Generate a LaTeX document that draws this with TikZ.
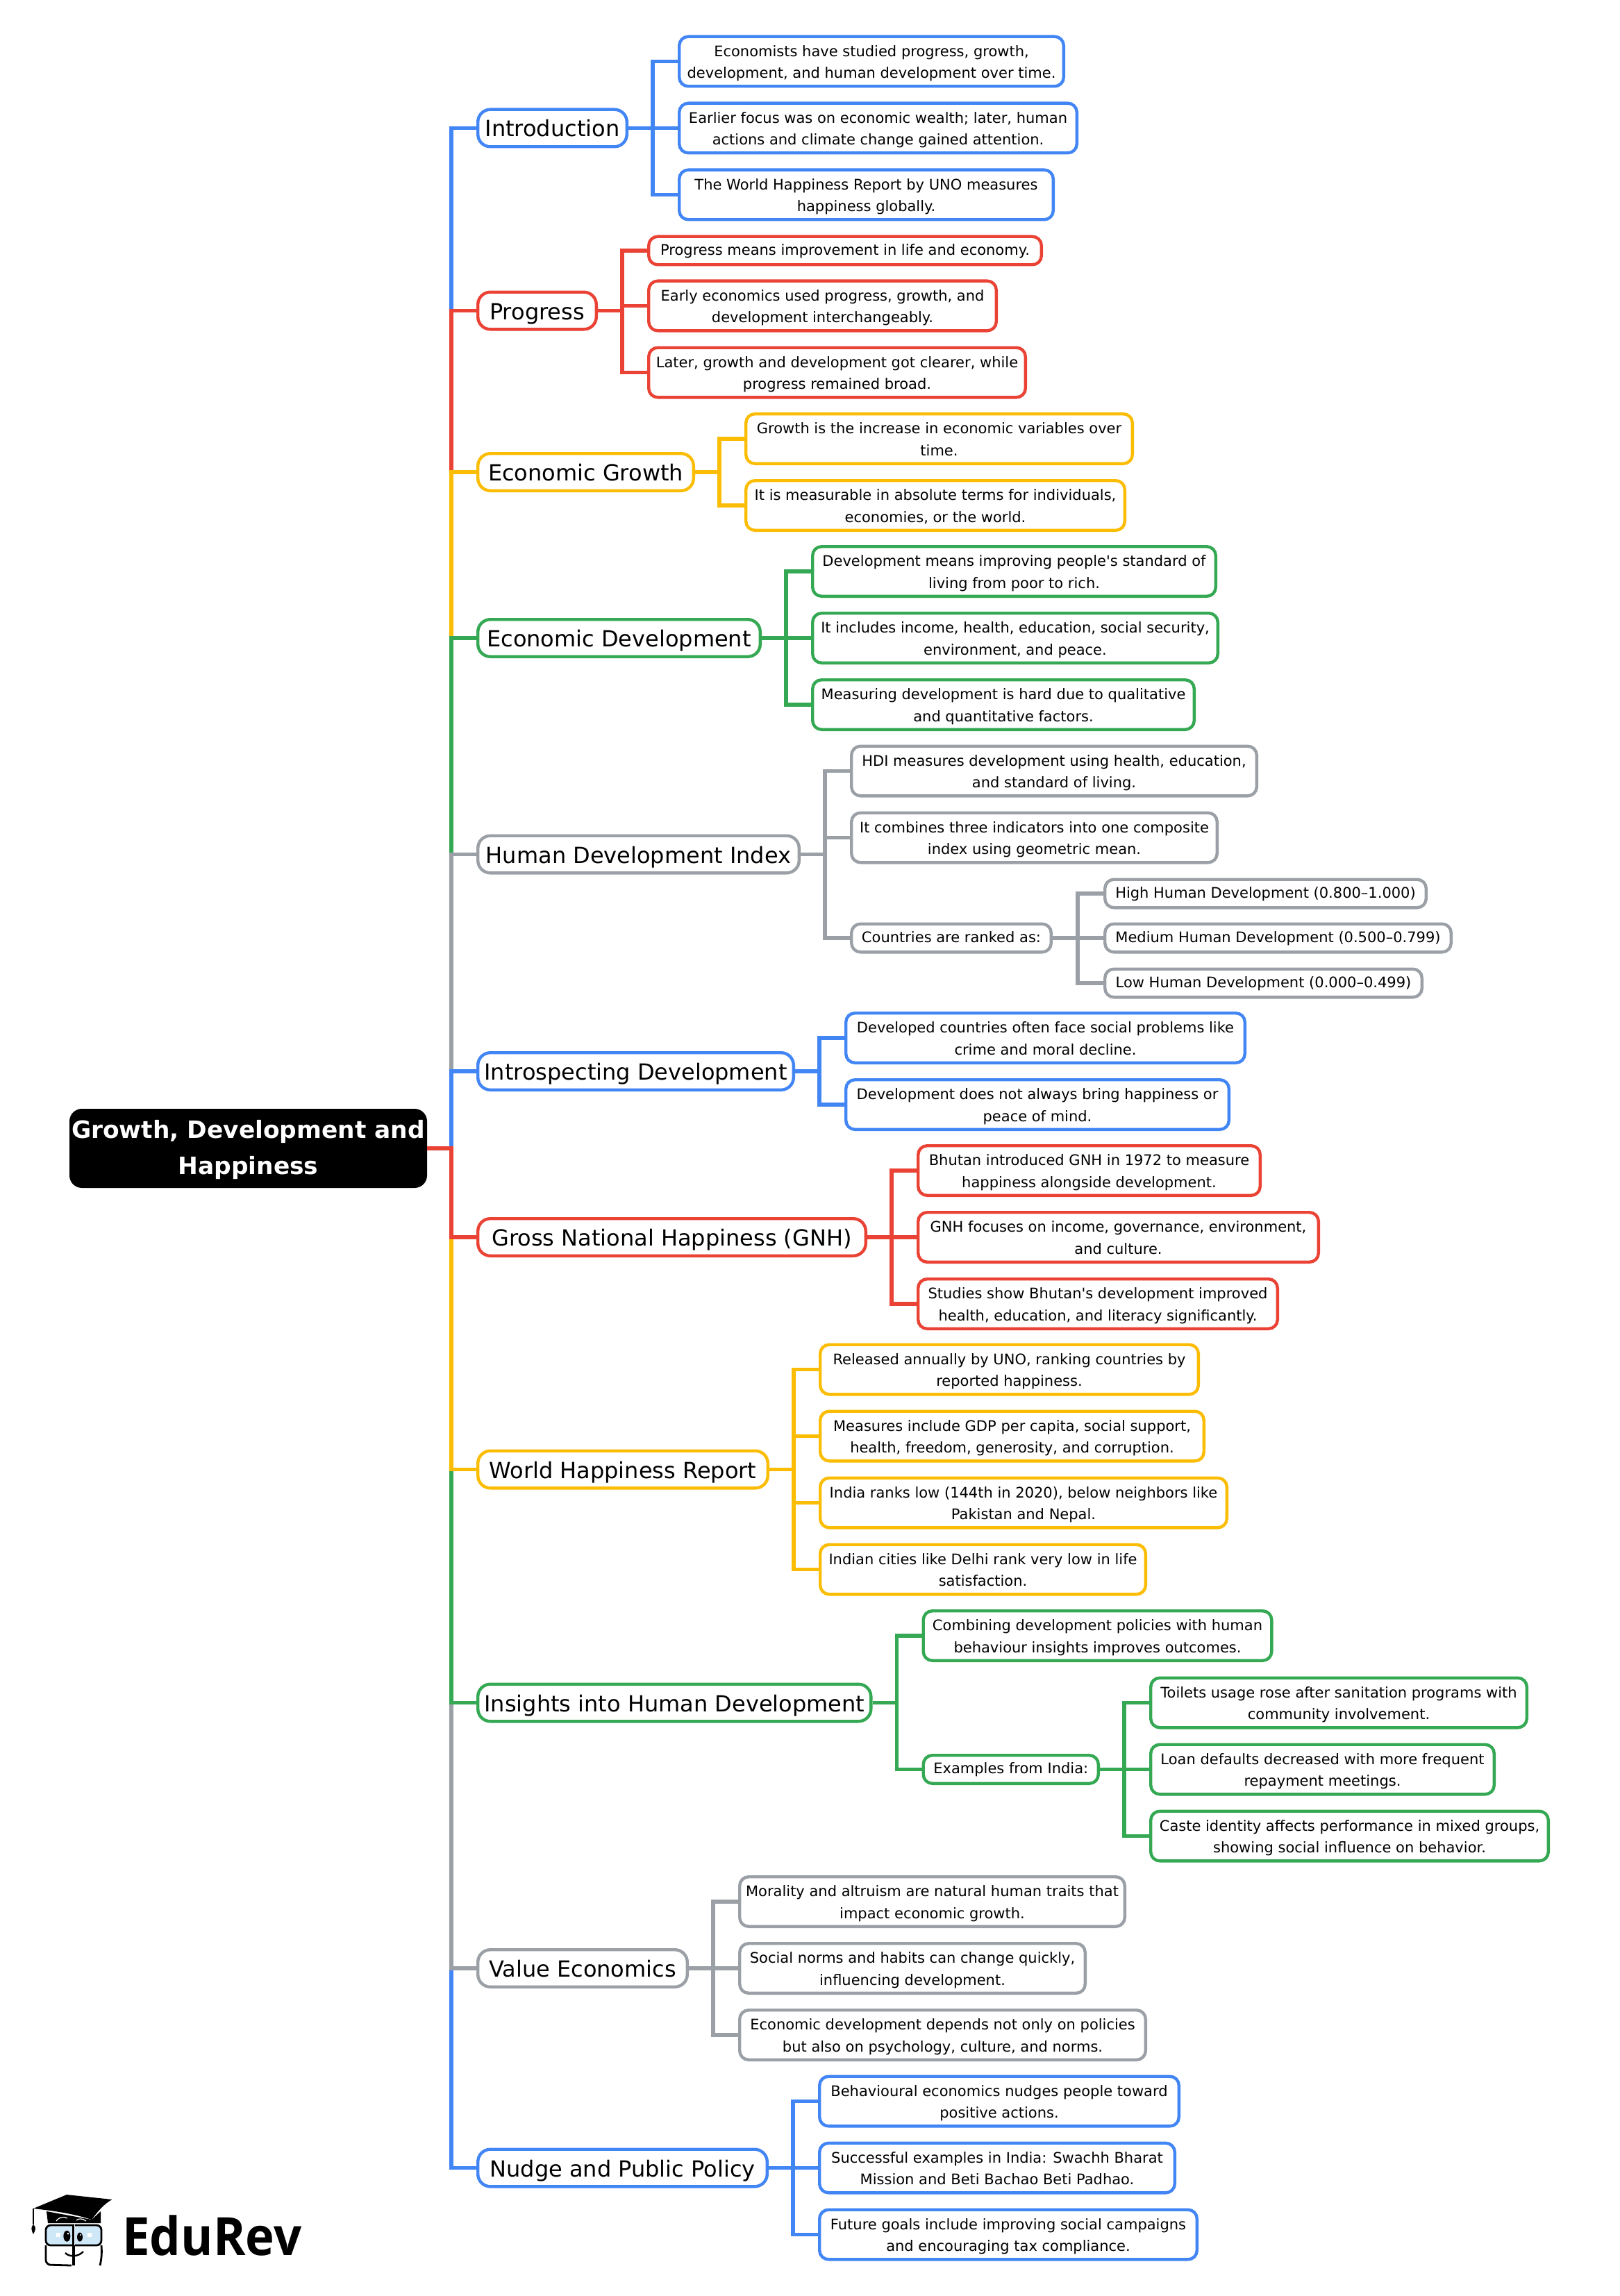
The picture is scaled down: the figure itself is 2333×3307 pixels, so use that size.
\documentclass[tikz,border=0pt]{standalone}
\usepackage{fontspec}
\setmainfont{DejaVu Sans}[Ligatures=TeXOff]
\newfontfamily\logofont{Open Sans}
\definecolor{mapblue}{HTML}{4285F4}
\definecolor{mapred}{HTML}{EA4335}
\definecolor{mapyellow}{HTML}{FBBC04}
\definecolor{mapgreen}{HTML}{34A853}
\definecolor{mapgray}{HTML}{9AA0A6}
\definecolor{logoglass}{HTML}{CFE8F7}
\tikzset{
  wd/.style={minimum width={(#1-4.4)*0.5pt}},
  wire/.style={draw=#1,line width=2.7pt},
  topic/.style={draw=#1,fill=white,line width=2.2pt,rounded corners=9pt,anchor=west,
    minimum height=26.8pt,inner xsep=0pt,inner ysep=0pt,align=center,
    text height=14pt,text depth=1.5pt,
    font=\fontsize{16}{20}\selectfont},
  leaf/.style={draw=#1,fill=white,line width=2.2pt,rounded corners=6.5pt,anchor=west,
    minimum height=35.8pt,inner xsep=0pt,inner ysep=0pt,align=center,
    text height=24pt,text depth=0pt,
    font=\fontsize{10.5}{15.7}\selectfont},
  oneline/.style={minimum height=20.3pt,text height=8pt,text depth=1.6pt},
}
\begin{document}
\begin{tikzpicture}[x=0.5pt,y=-0.5pt]

  \useasboundingbox (0,0) rectangle (2333,3307);

  \node[fill=black,text=white,rounded corners=9pt,minimum width=257.5pt,minimum height=57pt,
    inner sep=0pt,align=center,font=\fontsize{17.2}{26}\selectfont\bfseries,
    text height=38pt,text depth=0.3pt]
    (root) at (357.5,1654) {Growth, Development and\\Happiness};
  \coordinate (spine) at (650,1654);

  \node[topic=mapblue,wd=219] (intro) at (686,184.5) {Introduction};
  \node[topic=mapred,wd=175] (prog) at (686,447.5) {Progress};
  \node[topic=mapyellow,wd=315] (egrow) at (686,680) {Economic Growth};
  \node[topic=mapgreen,wd=411] (edev) at (686,919) {Economic Development};
  \node[topic=mapgray,wd=467] (hdi) at (686,1230.5) {Human Development Index};
  \node[topic=mapblue,wd=459] (insp) at (686,1543) {Introspecting Development};
  \node[topic=mapred,wd=563] (gnh) at (686,1782) {Gross National Happiness (GNH)};
  \node[topic=mapyellow,wd=422] (whr) at (686,2116.5) {World Happiness Report};
  \node[topic=mapgreen,wd=570.5] (ins) at (686,2452.5) {Insights into Human Development};
  \node[topic=mapgray,wd=306] (val) at (686,2835) {Value Economics};
  \node[topic=mapblue,wd=421] (nudge) at (686,3122.5) {Nudge and Public Policy};

  \node[leaf=mapblue,wd=558] (introa) at (976,88.5) {Economists have studied progress, growth,\\development, and human development over time.};
  \node[leaf=mapblue,wd=577] (introb) at (976,184.5) {Earlier focus was on economic wealth; later, human\\actions and climate change gained attention.};
  \node[leaf=mapblue,wd=543] (introc) at (976,280.5) {The World Happiness Report by UNO measures\\happiness globally.};

  \node[leaf=mapred,wd=570,oneline] (proga) at (932,361) {Progress means improvement in life and economy.};
  \node[leaf=mapred,wd=505] (progb) at (932,440.5) {Early economics used progress, growth, and\\development interchangeably.};
  \node[leaf=mapred,wd=547] (progc) at (932,536.5) {Later, growth and development got clearer, while\\progress remained broad.};

  \node[leaf=mapyellow,wd=561] (egrowa) at (1072,632) {Growth is the increase in economic variables over\\time.};
  \node[leaf=mapyellow,wd=550] (egrowb) at (1072,728) {It is measurable in absolute terms for individuals,\\economies, or the world.};

  \node[leaf=mapgreen,wd=585] (edeva) at (1168,823) {Development means improving people's standard of\\living from poor to rich.};
  \node[leaf=mapgreen,wd=588] (edevb) at (1168,919) {It includes income, health, education, social security,\\environment, and peace.};
  \node[leaf=mapgreen,wd=554] (edevc) at (1168,1015) {Measuring development is hard due to qualitative\\and quantitative factors.};

  \node[leaf=mapgray,wd=588] (hdia) at (1224,1110.5) {HDI measures development using health, education,\\and standard of living.};
  \node[leaf=mapgray,wd=531] (hdib) at (1224,1206.5) {It combines three indicators into one composite\\index using geometric mean.};
  \node[leaf=mapgray,wd=292,oneline] (hdic) at (1224,1351) {Countries are ranked as:};
  \node[leaf=mapgray,wd=467,oneline] (hdiha) at (1589,1287) {High Human Development (0.800–1.000)};
  \node[leaf=mapgray,wd=503,oneline] (hdihb) at (1589,1351) {Medium Human Development (0.500–0.799)};
  \node[leaf=mapgray,wd=461,oneline] (hdihc) at (1589,1416) {Low Human Development (0.000–0.499)};

  \node[leaf=mapblue,wd=579] (inspa) at (1216,1495) {Developed countries often face social problems like\\crime and moral decline.};
  \node[leaf=mapblue,wd=556] (inspb) at (1216,1591) {Development does not always bring happiness or\\peace of mind.};

  \node[leaf=mapred,wd=497] (gnha) at (1320,1686) {Bhutan introduced GNH in 1972 to measure\\happiness alongside development.};
  \node[leaf=mapred,wd=581] (gnhb) at (1320,1782) {GNH focuses on income, governance, environment,\\and culture.};
  \node[leaf=mapred,wd=522] (gnhc) at (1320,1878) {Studies show Bhutan's development improved\\health, education, and literacy significantly.};

  \node[leaf=mapyellow,wd=549] (whra) at (1179,1972.5) {Released annually by UNO, ranking countries by\\reported happiness.};
  \node[leaf=mapyellow,wd=557] (whrb) at (1179,2068.5) {Measures include GDP per capita, social support,\\health, freedom, generosity, and corruption.};
  \node[leaf=mapyellow,wd=590] (whrc) at (1179,2164.5) {India ranks low (144th in 2020), below neighbors like\\Pakistan and Nepal.};
  \node[leaf=mapyellow,wd=473] (whrd) at (1179,2260.5) {Indian cities like Delhi rank very low in life\\satisfaction.};

  \node[leaf=mapgreen,wd=506] (insa) at (1327.5,2356) {Combining development policies with human\\behaviour insights improves outcomes.};
  \node[leaf=mapgreen,wd=256.5,oneline] (insb) at (1327.5,2548.5) {Examples from India:};
  \node[leaf=mapgreen,wd=546] (insba) at (1655,2452.5) {Toilets usage rose after sanitation programs with\\community involvement.};
  \node[leaf=mapgreen,wd=499] (insbb) at (1655,2548.5) {Loan defaults decreased with more frequent\\repayment meetings.};
  \node[leaf=mapgreen,wd=577] (insbc) at (1655,2644.5) {Caste identity affects performance in mixed groups,\\showing social influence on behavior.};

  \node[leaf=mapgray,wd=559] (vala) at (1063,2739) {Morality and altruism are natural human traits that\\impact economic growth.};
  \node[leaf=mapgray,wd=502] (valb) at (1063,2835) {Social norms and habits can change quickly,\\influencing development.};
  \node[leaf=mapgray,wd=589] (valc) at (1063,2931) {Economic development depends not only on policies\\but also on psychology, culture, and norms.};

  \node[leaf=mapblue,wd=522] (nudgea) at (1178,3026.5) {Behavioural economics nudges people toward\\positive actions.};
  \node[leaf=mapblue,wd=516] (nudgeb) at (1178,3122.5) {Successful examples in India: Swachh Bharat\\Mission and Beti Bachao Beti Padhao.};
  \node[leaf=mapblue,wd=548] (nudgec) at (1178,3218.5) {Future goals include improving social campaigns\\and encouraging tax compliance.};

  \draw[wire=mapblue] (root.east) -- (spine) |- (intro.west); %% root -> intro
  \draw[wire=mapred] (root.east) -- (spine) |- (prog.west);
  \draw[wire=mapyellow] (root.east) -- (spine) |- (egrow.west);
  \draw[wire=mapgreen] (root.east) -- (spine) |- (edev.west);
  \draw[wire=mapgray] (root.east) -- (spine) |- (hdi.west);
  \draw[wire=mapblue] (root.east) -- (spine) |- (insp.west);
  \draw[wire=mapblue] (root.east) -- (spine) |- (nudge.west); %% root -> nudge
  \draw[wire=mapgray] (root.east) -- (spine) |- (val.west);
  \draw[wire=mapgreen] (root.east) -- (spine) |- (ins.west);
  \draw[wire=mapyellow] (root.east) -- (spine) |- (whr.west);
  \draw[wire=mapred] (root.east) -- (spine) |- (gnh.west);

  \draw[wire=mapblue] (intro.east) -- ++(35,0) |- (introa.west); %% intro -> leaves
  \draw[wire=mapblue] (intro.east) -- ++(35,0) |- (introb.west);
  \draw[wire=mapblue] (intro.east) -- ++(35,0) |- (introc.west);

  \draw[wire=mapred] (prog.east) -- ++(35,0) |- (proga.west);
  \draw[wire=mapred] (prog.east) -- ++(35,0) |- (progb.west);
  \draw[wire=mapred] (prog.east) -- ++(35,0) |- (progc.west);

  \draw[wire=mapyellow] (egrow.east) -- ++(35,0) |- (egrowa.west);
  \draw[wire=mapyellow] (egrow.east) -- ++(35,0) |- (egrowb.west);

  \draw[wire=mapgreen] (edev.east) -- ++(35,0) |- (edeva.west);
  \draw[wire=mapgreen] (edev.east) -- ++(35,0) |- (edevb.west);
  \draw[wire=mapgreen] (edev.east) -- ++(35,0) |- (edevc.west);

  \draw[wire=mapgray] (hdi.east) -- ++(35,0) |- (hdia.west);
  \draw[wire=mapgray] (hdi.east) -- ++(35,0) |- (hdib.west);
  \draw[wire=mapgray] (hdi.east) -- ++(35,0) |- (hdic.west);
  \draw[wire=mapgray] (hdic.east) -- ++(36,0) |- (hdiha.west); %% ranked -> levels
  \draw[wire=mapgray] (hdic.east) -- ++(36,0) |- (hdihb.west);
  \draw[wire=mapgray] (hdic.east) -- ++(36,0) |- (hdihc.west);

  \draw[wire=mapblue] (insp.east) -- ++(35,0) |- (inspa.west);
  \draw[wire=mapblue] (insp.east) -- ++(35,0) |- (inspb.west);

  \draw[wire=mapred] (gnh.east) -- ++(35,0) |- (gnha.west);
  \draw[wire=mapred] (gnh.east) -- ++(35,0) |- (gnhb.west);
  \draw[wire=mapred] (gnh.east) -- ++(35,0) |- (gnhc.west);

  \draw[wire=mapyellow] (whr.east) -- ++(35,0) |- (whra.west);
  \draw[wire=mapyellow] (whr.east) -- ++(35,0) |- (whrb.west);
  \draw[wire=mapyellow] (whr.east) -- ++(35,0) |- (whrc.west);
  \draw[wire=mapyellow] (whr.east) -- ++(35,0) |- (whrd.west);

  \draw[wire=mapgreen] (ins.east) -- ++(35,0) |- (insa.west);
  \draw[wire=mapgreen] (ins.east) -- ++(35,0) |- (insb.west);
  \draw[wire=mapgreen] (insb.east) -- ++(35,0) |- (insba.west); %% examples -> leaves
  \draw[wire=mapgreen] (insb.east) -- ++(35,0) |- (insbb.west);
  \draw[wire=mapgreen] (insb.east) -- ++(35,0) |- (insbc.west);

  \draw[wire=mapgray] (val.east) -- ++(35,0) |- (vala.west);
  \draw[wire=mapgray] (val.east) -- ++(35,0) |- (valb.west);
  \draw[wire=mapgray] (val.east) -- ++(35,0) |- (valc.west);

  \draw[wire=mapblue] (nudge.east) -- ++(35,0) |- (nudgea.west);
  \draw[wire=mapblue] (nudge.east) -- ++(35,0) |- (nudgeb.west);
  \draw[wire=mapblue] (nudge.east) -- ++(35,0) |- (nudgec.west);

  %% logo
  \fill (67,3185) -- (69,3202) -- (145,3202) -- (145,3185) -- (132,3197) -- cycle;
  \fill (48,3181) -- (96,3161) -- (161.5,3168) .. controls (150,3174) and (140,3186) .. (132,3197)
    .. controls (105,3188) and (75,3184) .. (48,3181) -- cycle;
  \draw[line width=0.8pt] (48,3181) -- (48,3204);
  \fill (48,3204) .. controls (44,3208) and (45,3212) .. (48,3218)
    .. controls (51,3212) and (53,3208) .. (48,3204) -- cycle;
  \draw[white,line width=0.6pt] (81,3199) .. controls (85,3193) and (92,3192) .. (97,3195);
  \draw[white,line width=0.6pt] (110,3198) .. controls (113,3195) and (119,3195) .. (124,3199);
  \draw[fill=logoglass,line width=1.4pt,rounded corners=3.5pt] (66,3205) rectangle (146,3234);
  \draw[line width=1.4pt,rounded corners=3.5pt] (66,3234) -- (66,3262) -- (103,3263);
  \draw[line width=1.4pt] (146,3234) .. controls (147,3245) and (146,3255) .. (144,3263);
  \draw[line width=1.6pt] (106,3204) -- (106,3263);
  \fill[white] (106.8,3204) rectangle (107.6,3234);
  \fill (96.4,3220.7) ellipse [x radius=5,y radius=8];
  \fill (115,3222) ellipse [x radius=4,y radius=6.5];
  \fill[white] (98,3217) circle [radius=1.5];
  \fill[white] (116,3219) circle [radius=1.2];
  \fill[white] (81,3216) rectangle (87,3222);
  \fill[white] (126,3216) rectangle (132,3222);
  \draw[line width=1.2pt] (94,3245) .. controls (100,3251) and (112,3251) .. (120,3243);
  \node[anchor=base west,inner sep=0pt,xscale=0.93,transform shape,
    font=\logofont\fontsize{38}{38}\selectfont\bfseries]
    (logotext) at (176,3248) {EduRev};

\end{tikzpicture}
\end{document}
